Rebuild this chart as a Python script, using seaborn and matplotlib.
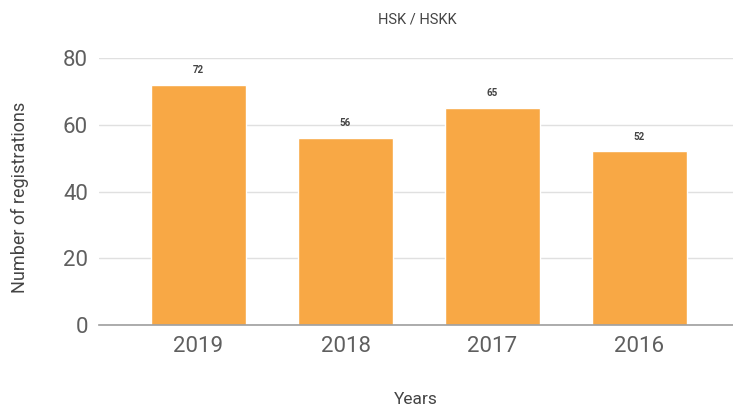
import matplotlib
matplotlib.use("Agg")
import matplotlib.pyplot as plt
import seaborn as sns
import pandas as pd

years = ["2019", "2018", "2017", "2016"]
registrations = [72, 56, 65, 52]
yticks = [0, 20, 40, 60, 80]

df = pd.DataFrame({"Years": years, "Registrations": registrations})

sns.set_theme(style="white")
plt.rcParams['font.family'] = ['Roboto', 'DejaVu Sans']

fig = plt.figure(figsize=(7.33, 4.07), dpi=100)
ax = fig.add_axes([99/733, 82/407, (733-99)/733, (325-58)/407])

sns.barplot(data=df, x="Years", y="Registrations", color="#f8a845",
            saturation=1, width=0.646, ax=ax, zorder=3)

ax.set_ylim(0, 80)
ax.set_xlim(-0.677, 3.636)
ax.set_yticks(yticks)
ax.yaxis.grid(True, color="#e0e0e0", linewidth=1, zorder=0)
for s in ["top", "right", "left"]:
    ax.spines[s].set_visible(False)
ax.spines["bottom"].set_color("#9e9e9e")
ax.spines["bottom"].set_linewidth(1.2)
ax.spines["bottom"].set_zorder(4)
ax.tick_params(axis="both", length=0, labelsize=16, labelcolor="#5f5f5f")
ax.tick_params(axis="y", pad=8)
ax.tick_params(axis="x", pad=8)

for c in ax.containers:
    ax.bar_label(c, labels=[str(v) for v in registrations], padding=7,
                 fontsize=7, fontweight="bold", color="#444444")

ax.set_xlabel("Years", fontsize=12.5, color="#444444", labelpad=25)
ax.set_ylabel("Number of registrations", fontsize=13, color="#444444", labelpad=24)
ax.yaxis.label.set_y(0.478)
fig.text(417/733, 1 - 19/407, "HSK / HSKK", ha="center", va="center",
         fontsize=10.5, color="#444444")

fig.savefig("out.png", dpi=100)
